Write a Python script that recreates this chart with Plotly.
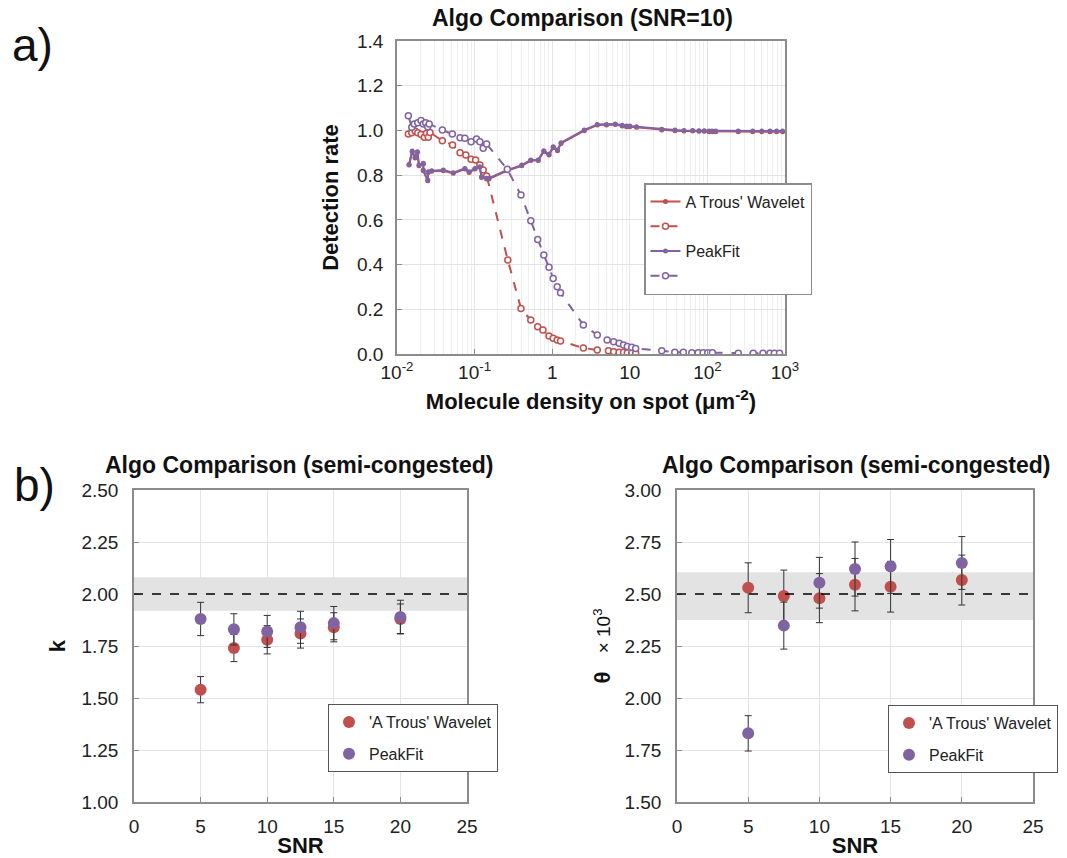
import plotly.graph_objects as go

# ---------------- Data: top panel (SNR=10) ----------------
pf_solid_x = [0.0143, 0.0157, 0.0171, 0.0183, 0.0192, 0.0218, 0.0218, 0.0249, 0.0253, 0.028,
              0.0395, 0.053, 0.075, 0.085, 0.101, 0.117, 0.123, 0.143, 0.153, 0.264,
              0.405, 0.529, 0.66, 0.78, 0.91, 1.03, 1.17, 1.30, 2.59, 3.81,
              5.0, 6.5, 8.0, 9.1, 10.0, 12.2, 25.8, 38.2, 49.9, 64.6,
              78, 91, 105, 115, 128, 250, 384, 502, 641, 780, 930]
pf_solid_y = [0.848, 0.908, 0.880, 0.905, 0.845, 0.853, 0.823, 0.778, 0.815, 0.820,
              0.823, 0.811, 0.830, 0.815, 0.830, 0.838, 0.793, 0.786, 0.786, 0.823,
              0.845, 0.868, 0.868, 0.909, 0.893, 0.927, 0.912, 0.945, 1.002, 1.027,
              1.027, 1.029, 1.023, 1.020, 1.020, 1.017, 1.005, 1.002, 1.000, 1.000,
              0.999, 0.999, 0.997, 0.997, 0.997, 0.997, 0.997, 0.997, 0.997, 0.997, 0.997]
aw_solid_y = [0.845, 0.905, 0.877, 0.902, 0.842, 0.850, 0.820, 0.775, 0.812, 0.817,
              0.820, 0.808, 0.827, 0.812, 0.827, 0.835, 0.790, 0.783, 0.783, 0.820,
              0.842, 0.865, 0.865, 0.906, 0.890, 0.924, 0.909, 0.942, 0.999, 1.024,
              1.024, 1.026, 1.020, 1.017, 1.017, 1.014, 1.002, 0.999, 0.997, 0.997,
              0.996, 0.996, 0.994, 0.994, 0.994, 0.994, 0.994, 0.994, 0.994, 0.994, 0.994]

aw_dash_x = [0.014, 0.0155, 0.0171, 0.0185, 0.0204, 0.0225, 0.024, 0.0253, 0.0266, 0.0384,
             0.052, 0.065, 0.077, 0.09, 0.103, 0.117, 0.129, 0.143, 0.268, 0.396,
             0.53, 0.65, 0.76, 0.91, 1.03, 1.16, 1.28, 2.52, 3.81, 5.3,
             6.2, 7.3, 8.3, 9.3, 10.6, 11.9]
aw_dash_y = [0.984, 0.990, 0.997, 0.990, 0.982, 0.969, 0.987, 0.969, 0.991, 0.954,
             0.935, 0.900, 0.890, 0.871, 0.868, 0.845, 0.823, 0.796, 0.420, 0.203,
             0.152, 0.122, 0.107, 0.080, 0.070, 0.063, 0.058, 0.027, 0.018, 0.015,
             0.010, 0.008, 0.008, 0.006, 0.003, 0.003]

pf_dash_x = [0.014, 0.0155, 0.0167, 0.0185, 0.0204, 0.0218, 0.0234, 0.0249, 0.026, 0.0384,
             0.0516, 0.065, 0.075, 0.09, 0.106, 0.117, 0.129, 0.143, 0.264, 0.396,
             0.53, 0.65, 0.78, 0.91, 1.03, 1.16, 1.28, 2.52, 3.81, 5.1,
             6.2, 7.3, 8.3, 9.3, 10.6, 11.9, 25.8, 38, 49, 63,
             76, 88, 101, 116, 250, 390, 520, 640, 730, 850]
pf_dash_y = [1.066, 1.014, 1.029, 1.034, 1.044, 1.029, 1.034, 1.017, 1.029, 1.002,
             0.984, 0.967, 0.965, 0.949, 0.962, 0.949, 0.920, 0.939, 0.826, 0.711,
             0.596, 0.512, 0.443, 0.388, 0.338, 0.301, 0.274, 0.130, 0.085, 0.063,
             0.055, 0.048, 0.040, 0.033, 0.030, 0.025, 0.015, 0.008, 0.008, 0.006,
             0.006, 0.006, 0.006, 0.006, 0.003, 0.003, 0.003, 0.003, 0.003, 0.003]

x_tick_vals = [0.01, 0.1, 1, 10, 100, 1000]
x_tick_text = ["10<sup>-2</sup>", "10<sup>-1</sup>", "1", "10", "10<sup>2</sup>", "10<sup>3</sup>"]

# ---------------- Data: bottom panels (semi-congested) ----------------
snr = [5, 7.5, 10, 12.5, 15, 20]
aw_k = [1.54, 1.74, 1.78, 1.81, 1.84, 1.88]
aw_k_err = [0.063, 0.065, 0.068, 0.07, 0.07, 0.072]
pf_k = [1.88, 1.83, 1.82, 1.84, 1.86, 1.89]
pf_k_err = [0.08, 0.075, 0.077, 0.077, 0.08, 0.08]

aw_theta = [2.53, 2.49, 2.48, 2.545, 2.535, 2.567]
aw_theta_err = [0.12, 0.125, 0.118, 0.126, 0.122, 0.12]
pf_theta = [1.83, 2.348, 2.554, 2.62, 2.632, 2.649]
pf_theta_err = [0.085, 0.113, 0.122, 0.13, 0.13, 0.127]

k_ref, k_band = 2.00, (1.92, 2.08)
theta_ref, theta_band = 2.50, (2.375, 2.605)

RED = "#C0504D"
PURPLE = "#8064A2"
FONT = "Arial, Liberation Sans, sans-serif"
AXC = "#8c8c8c"
GRIDC = "#e4e4e4"

fig = go.Figure()

# top panel traces
fig.add_trace(go.Scatter(x=pf_solid_x, y=aw_solid_y, mode="lines+markers", name="A Trous' Wavelet",
                         line=dict(color=RED, width=2), marker=dict(size=5, color=RED),
                         xaxis="x", yaxis="y", legend="legend", legendgroup="t1"))
fig.add_trace(go.Scatter(x=aw_dash_x, y=aw_dash_y, mode="lines+markers", name=" ",
                         line=dict(color=RED, width=2, dash="dash"),
                         marker=dict(size=6, color="white", line=dict(color=RED, width=1.5)),
                         xaxis="x", yaxis="y", legend="legend", legendgroup="t2"))
fig.add_trace(go.Scatter(x=pf_solid_x, y=pf_solid_y, mode="lines+markers", name="PeakFit",
                         line=dict(color=PURPLE, width=2), marker=dict(size=5, color=PURPLE),
                         xaxis="x", yaxis="y", legend="legend", legendgroup="t3"))
fig.add_trace(go.Scatter(x=pf_dash_x, y=pf_dash_y, mode="lines+markers", name="  ",
                         line=dict(color=PURPLE, width=2, dash="dash"),
                         marker=dict(size=6, color="white", line=dict(color=PURPLE, width=1.5)),
                         xaxis="x", yaxis="y", legend="legend", legendgroup="t4"))

err_style = lambda arr: dict(type="data", array=arr, visible=True, color="#333333", thickness=1, width=3.5)

# bottom-left
fig.add_trace(go.Scatter(x=snr, y=aw_k, mode="markers", name="'A Trous' Wavelet",
                         marker=dict(size=12, color=RED), error_y=err_style(aw_k_err),
                         xaxis="x2", yaxis="y2", legend="legend2", legendgroup="b1"))
fig.add_trace(go.Scatter(x=snr, y=pf_k, mode="markers", name="PeakFit",
                         marker=dict(size=12, color=PURPLE), error_y=err_style(pf_k_err),
                         xaxis="x2", yaxis="y2", legend="legend2", legendgroup="b2"))
# bottom-right
fig.add_trace(go.Scatter(x=snr, y=aw_theta, mode="markers", name="'A Trous' Wavelet",
                         marker=dict(size=12, color=RED), error_y=err_style(aw_theta_err),
                         xaxis="x3", yaxis="y3", legend="legend3", legendgroup="c1"))
fig.add_trace(go.Scatter(x=snr, y=pf_theta, mode="markers", name="PeakFit",
                         marker=dict(size=12, color=PURPLE), error_y=err_style(pf_theta_err),
                         xaxis="x3", yaxis="y3", legend="legend3", legendgroup="c2"))

W, H = 1067, 858
def xd(a, b):
    return [a / W, b / W]
def yd(top, bottom):
    return [1 - bottom / H, 1 - top / H]

tickfont = dict(family=FONT, size=19, color="#222")
titlefont = dict(family=FONT, size=22, color="#111")
common_axis = dict(showline=True, mirror=True, linecolor=AXC, linewidth=1.5,
                   gridcolor=GRIDC, gridwidth=1, zeroline=False,
                   ticks="inside", ticklen=5, tickcolor=AXC, tickfont=tickfont)

fig.update_layout(
    width=W, height=H, margin=dict(l=0, r=0, t=0, b=0, autoexpand=False),
    paper_bgcolor="white", plot_bgcolor="white",
    font=dict(family=FONT),
    xaxis=dict(domain=xd(397, 785), type="log", range=[-2, 3], anchor="y",
               tickvals=x_tick_vals, ticktext=x_tick_text,
               minor=dict(dtick="D1", showgrid=True, gridcolor="#efefef", ticks=""),
               title=dict(text="<b>Molecule density on spot (μm<sup>-2</sup>)</b>", font=titlefont, standoff=12),
               **common_axis),
    yaxis=dict(domain=yd(41, 354), range=[0, 1.4], dtick=0.2, tickformat=".1f", anchor="x",
               ticklabelstandoff=8,
               title=dict(text="<b>Detection rate</b>", font=titlefont, standoff=12),
               **common_axis),
    xaxis2=dict(domain=xd(134, 467), range=[0, 25], dtick=5, anchor="y2", ticklabelstandoff=6,
                title=dict(text="<b>SNR</b>", font=titlefont, standoff=12),
                **common_axis),
    yaxis2=dict(domain=yd(490, 802), range=[1.0, 2.5], dtick=0.25, tickformat=".2f", anchor="x2",
                ticklabelstandoff=10,
                title=dict(text="<b>k</b>", font=titlefont, standoff=10),
                **common_axis),
    xaxis3=dict(domain=xd(677, 1033), range=[0, 25], dtick=5, anchor="y3", ticklabelstandoff=6,
                title=dict(text="<b>SNR</b>", font=titlefont, standoff=12),
                **common_axis),
    yaxis3=dict(domain=yd(490, 802), range=[1.5, 3.0], dtick=0.25, tickformat=".2f", anchor="x3",
                ticklabelstandoff=10,
                title=dict(text="<b>θ</b>   <span style='font-size:19px'>× 10<sup>3</sup></span>",
                           font=titlefont, standoff=8),
                **common_axis),
    legend=dict(x=644 / W, y=1 - 183 / H, xanchor="left", yanchor="top",
                bgcolor="white", bordercolor=AXC, borderwidth=1.5, traceorder="grouped",
                font=dict(family=FONT, size=16, color="#222"), tracegroupgap=1, itemwidth=30),
    legend2=dict(x=328 / W, y=1 - 704 / H, xanchor="left", yanchor="top",
                 bgcolor="white", bordercolor="#555", borderwidth=1, traceorder="grouped",
                 font=dict(family=FONT, size=16, color="#222"), itemwidth=30, tracegroupgap=8),
    legend3=dict(x=888 / W, y=1 - 705 / H, xanchor="left", yanchor="top",
                 bgcolor="white", bordercolor="#555", borderwidth=1, traceorder="grouped",
                 font=dict(family=FONT, size=16, color="#222"), itemwidth=30, tracegroupgap=8),
    showlegend=True,
)

# bands & reference lines
fig.add_shape(type="rect", xref="x2 domain", yref="y2", x0=0, x1=1, y0=k_band[0], y1=k_band[1],
              fillcolor="#e3e3e3", line=dict(width=0), layer="below")
fig.add_shape(type="line", xref="x2 domain", yref="y2", x0=0, x1=1, y0=k_ref, y1=k_ref,
              line=dict(color="black", width=1.5, dash="dash"))
fig.add_shape(type="rect", xref="x3 domain", yref="y3", x0=0, x1=1, y0=theta_band[0], y1=theta_band[1],
              fillcolor="#e3e3e3", line=dict(width=0), layer="below")
fig.add_shape(type="line", xref="x3 domain", yref="y3", x0=0, x1=1, y0=theta_ref, y1=theta_ref,
              line=dict(color="black", width=1.5, dash="dash"))

# titles and panel labels
title_font = dict(family=FONT, size=23, color="#111")
fig.add_annotation(text="<b>Algo Comparison (SNR=10)</b>", x=583 / W, y=1 - 18 / H, xref="paper", yref="paper",
                   showarrow=False, font=title_font, xanchor="center", yanchor="middle")
fig.add_annotation(text="<b>Algo Comparison (semi-congested)</b>", x=299 / W, y=1 - 465 / H, xref="paper",
                   yref="paper", showarrow=False, font=title_font, xanchor="center", yanchor="middle")
fig.add_annotation(text="<b>Algo Comparison (semi-congested)</b>", x=856 / W, y=1 - 465 / H, xref="paper",
                   yref="paper", showarrow=False, font=title_font, xanchor="center", yanchor="middle")
fig.add_annotation(text="a)", x=10 / W, y=1 - 45 / H, xref="paper", yref="paper", showarrow=False,
                   font=dict(family=FONT, size=46, color="#111"), xanchor="left", yanchor="middle")
fig.add_annotation(text="b)", x=12 / W, y=1 - 485 / H, xref="paper", yref="paper", showarrow=False,
                   font=dict(family=FONT, size=46, color="#111"), xanchor="left", yanchor="middle")

fig.write_html("out.html")
